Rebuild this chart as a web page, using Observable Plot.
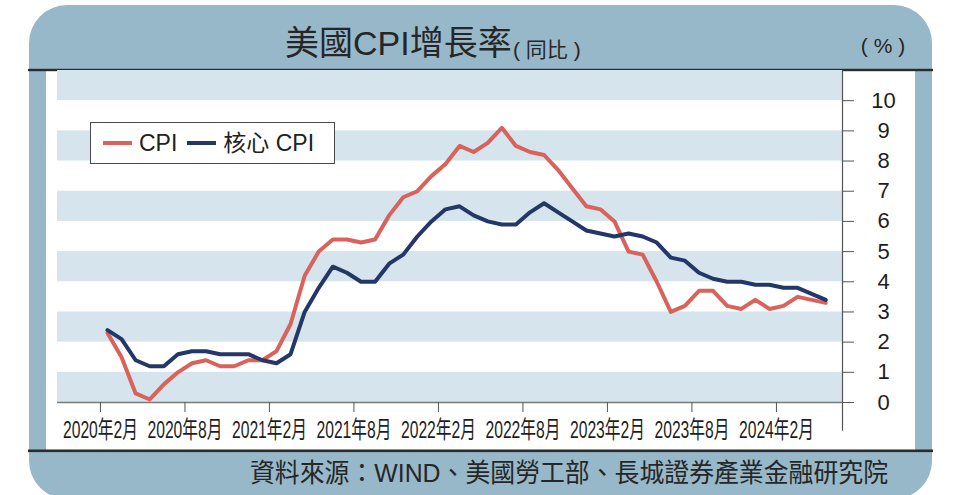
<!DOCTYPE html>
<html>
<head>
<meta charset="utf-8">
<script src="https://cdn.jsdelivr.net/npm/d3@7"></script>
<script src="https://cdn.jsdelivr.net/npm/@observablehq/plot@0.6"></script>
<style>
  html, body { margin: 0; padding: 0; background: #ffffff; }
  #wrap { position: relative; width: 953px; height: 495px; overflow: hidden; }
  #bg, #chart { position: absolute; }
  #bg { left: 0; top: 0; }
  #chart { left: 46px; top: 70px; }
  #legend {
    position: absolute; left: 90px; top: 122px; width: 243px; height: 40px;
    border: 1px solid #4a4a4a; background: #ffffff; box-sizing: content-box;
    font-family: "Liberation Sans", "Noto Sans CJK TC", sans-serif; font-size: 23px; color: #222;
    display: flex; align-items: center;
  }
  #legend .sw { display: inline-block; width: 29px; height: 4px; margin-left: 12px; margin-right: 7px; }
  #legend .lab { display: inline-block; line-height: 40px; }
</style>
</head>
<body>
<div id="wrap">
  <svg id="bg" width="953" height="495"></svg>
  <div id="chart"></div>
  <div id="legend"></div>
</div>
<script>
// ---- data ----
const seriesNames = ["CPI", "核心 CPI"];
const seriesColors = ["#d9625b", "#243769"];
// monthly YoY %, 2020-02 .. 2024-05
const cpiValues = [
  2.3, 1.5, 0.3, 0.1, 0.6, 1.0, 1.3, 1.4, 1.2, 1.2, 1.4,
  1.4, 1.7, 2.6, 4.2, 5.0, 5.4, 5.4, 5.3, 5.4, 6.2, 6.8, 7.0,
  7.5, 7.9, 8.5, 8.3, 8.6, 9.1, 8.5, 8.3, 8.2, 7.7, 7.1, 6.5,
  6.4, 6.0, 5.0, 4.9, 4.0, 3.0, 3.2, 3.7, 3.7, 3.2, 3.1, 3.4,
  3.1, 3.2, 3.5, 3.4, 3.3
];
const coreValues = [
  2.4, 2.1, 1.4, 1.2, 1.2, 1.6, 1.7, 1.7, 1.6, 1.6, 1.6,
  1.4, 1.3, 1.6, 3.0, 3.8, 4.5, 4.3, 4.0, 4.0, 4.6, 4.9, 5.5,
  6.0, 6.4, 6.5, 6.2, 6.0, 5.9, 5.9, 6.3, 6.6, 6.3, 6.0, 5.7,
  5.6, 5.5, 5.6, 5.5, 5.3, 4.8, 4.7, 4.3, 4.1, 4.0, 4.0, 3.9,
  3.9, 3.8, 3.8, 3.6, 3.4
];
const xTickMonths = [0, 6, 12, 18, 24, 30, 36, 42, 48];
const xTickLabels = ["2020年2月", "2020年8月", "2021年2月", "2021年8月", "2022年2月", "2022年8月", "2023年2月", "2023年8月", "2024年2月"];
const yTicks = [0, 1, 2, 3, 4, 5, 6, 7, 8, 9, 10];
const stripeStarts = [0, 2, 4, 6, 8, 10];
const titleText = "美國CPI增長率";
const titleSub = "( 同比 )";
const unitText = "( % )";
const sourceText = "資料來源：WIND、美國勞工部、長城證券產業金融研究院";

// ---- background frame ----
const FONT = "'Liberation Sans', 'Noto Sans CJK TC', sans-serif";
const bg = d3.select("#bg");
bg.append("rect").attr("x", 29).attr("y", 5).attr("width", 903).attr("height", 494)
  .attr("rx", 38).attr("ry", 38).attr("fill", "#97b8c9");
bg.append("rect").attr("x", 46).attr("y", 71).attr("width", 869).attr("height", 379).attr("fill", "#ffffff");
bg.append("rect").attr("x", 28).attr("y", 68.8).attr("width", 905).attr("height", 2.4).attr("fill", "#2b2b2b");
bg.append("rect").attr("x", 28).attr("y", 449.5).attr("width", 905).attr("height", 2.6).attr("fill", "#2b2b2b");
bg.append("text").attr("x", 285).attr("y", 55).attr("font-family", FONT).attr("font-size", 34)
  .attr("fill", "#262626").text(titleText);
bg.append("text").attr("x", 513).attr("y", 57).attr("font-family", FONT).attr("font-size", 21)
  .attr("fill", "#262626").text(titleSub);
bg.append("text").attr("x", 883).attr("y", 53).attr("text-anchor", "middle").attr("font-family", FONT)
  .attr("font-size", 21).attr("fill", "#262626").text(unitText);
bg.append("text").attr("x", 888).attr("y", 482).attr("text-anchor", "end").attr("font-family", FONT)
  .attr("font-size", 26).attr("fill", "#262626").attr("textLength", 638).attr("lengthAdjust", "spacingAndGlyphs")
  .text(sourceText);

// ---- chart ----
const toRows = (vals, name) => vals.map((v, i) => ({i: i + 0.5, v, name}));
const cpiRows = toRows(cpiValues, seriesNames[0]);
const coreRows = toRows(coreValues, seriesNames[1]);
const xDomain = [-3.05, 52.69];

const chart = Plot.plot({
  width: 869,
  height: 381,
  marginLeft: 11,
  marginRight: 73,
  marginTop: 0,
  marginBottom: 49,
  style: {background: "transparent", fontFamily: FONT, overflow: "visible"},
  x: {domain: xDomain, axis: null},
  y: {domain: [0, 11], axis: null},
  marks: [
    Plot.rect(stripeStarts, {x1: xDomain[0], x2: xDomain[1], y1: d => d, y2: d => d + 1, fill: "#d6e5ed"}),
    Plot.ruleY([0], {stroke: "#7a7a7a", strokeWidth: 1.3}),
    Plot.axisX({
      ticks: xTickMonths,
      tickFormat: d => xTickLabels[xTickMonths.indexOf(d)],
      tickSize: 10, tickPadding: 8, fontSize: 24, stroke: "#555", fill: "#1e1e1e", label: null
    }),
    Plot.ruleX([xDomain[1]], {y1: -0.95, y2: 11, stroke: "#555", strokeWidth: 1.2}),
    Plot.axisY({
      anchor: "right", ticks: yTicks, tickSize: 11, tickPadding: 30, textAnchor: "middle",
      fontSize: 22, stroke: "#555", fill: "#1e1e1e", label: null
    }),
    Plot.line(cpiRows, {x: "i", y: "v", stroke: seriesColors[0], strokeWidth: 4, strokeLinejoin: "round"}),
    Plot.line(coreRows, {x: "i", y: "v", stroke: seriesColors[1], strokeWidth: 4, strokeLinejoin: "round"})
  ]
});
document.getElementById("chart").appendChild(chart);

// condensed x tick labels (horizontal squeeze, like the reference's condensed face)
d3.select(chart).selectAll('g[aria-label="x-axis tick label"] text').each(function() {
  const t = d3.select(this);
  const tr = t.attr("transform") || "";
  t.attr("transform", tr + " scale(0.655,1)");
});

// ---- legend ----
const legend = d3.select("#legend");
seriesNames.forEach((n, k) => {
  legend.append("span").attr("class", "sw").style("background", seriesColors[k])
    .style("margin-left", k === 0 ? "12px" : "10px");
  legend.append("span").attr("class", "lab").text(n);
});
</script>
</body>
</html>
